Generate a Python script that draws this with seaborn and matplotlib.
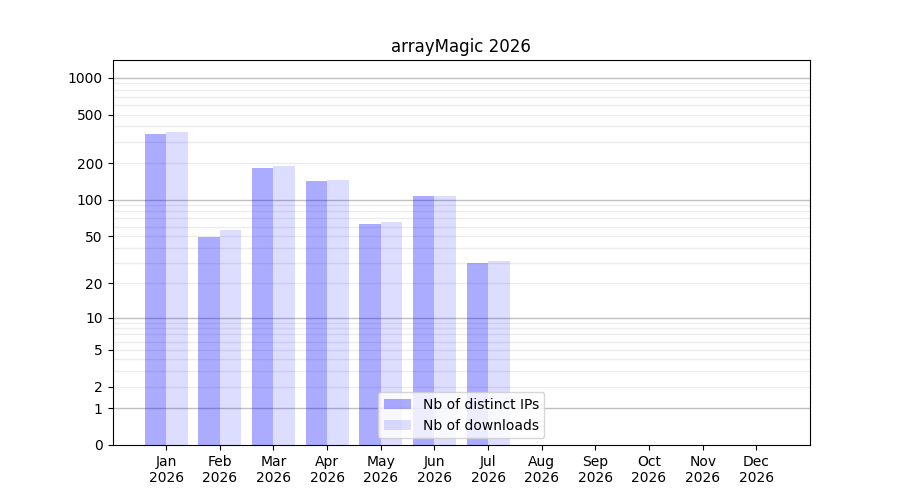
import numpy as np
import pandas as pd
import matplotlib
matplotlib.use('Agg')
import matplotlib.pyplot as plt
import seaborn as sns

# Monthly stats
months = ['Jan', 'Feb', 'Mar', 'Apr', 'May', 'Jun', 'Jul', 'Aug', 'Sep', 'Oct', 'Nov', 'Dec']
year = 2026
distinct_ips = [348, 49, 183, 143, 63, 108, 30, 0, 0, 0, 0, 0]
downloads = [362, 56, 190, 146, 66, 108, 31, 0, 0, 0, 0, 0]
series_labels = ['Nb of distinct IPs', 'Nb of downloads']
y_ticks = [0, 1, 2, 5, 10, 20, 50, 100, 200, 500, 1000]

month_labels = [f'{m}\n{year}' for m in months]
df = pd.DataFrame({
    'month': month_labels * 2,
    'value': distinct_ips + downloads,
    'series': [series_labels[0]] * 12 + [series_labels[1]] * 12,
})

fig, ax = plt.subplots(figsize=(9, 5), dpi=100)

# grid below the bars: decades darker, the rest light
ax.set_axisbelow(True)
for dec in [1, 10, 100]:
    for k in range(1, 10):
        v = dec * k
        ax.axhline(v, color='#c0c0c0' if k == 1 else '#ececec', lw=1, zorder=0)
ax.axhline(1000, color='#c0c0c0', lw=1, zorder=0)

sns.barplot(data=df, x='month', y='value', hue='series', order=month_labels,
            hue_order=series_labels, palette=['blue', 'blue'], saturation=1,
            width=0.8, errorbar=None, legend=False, ax=ax, zorder=2)

for cont, a in zip(ax.containers, [0.33, 0.135]):
    for p in cont:
        p.set_alpha(a)
        p.set_edgecolor('none')

ax.set_yscale('function', functions=(lambda y: np.log10(1 + np.clip(y, 0, None)),
                                     lambda t: 10 ** t - 1))
ax.set_ylim(0, 1400)
ax.set_xlim(-1, 12)
ax.set_yticks(y_ticks)
ax.set_yticklabels([str(t) for t in y_ticks])
ax.yaxis.set_minor_locator(matplotlib.ticker.NullLocator())

ax.set_xlabel('')
ax.set_ylabel('')
ax.set_title(f'arrayMagic {year}')
ax.legend(handles=ax.containers[:2], labels=series_labels, loc='lower center')

plt.savefig('out.png', dpi=100)
